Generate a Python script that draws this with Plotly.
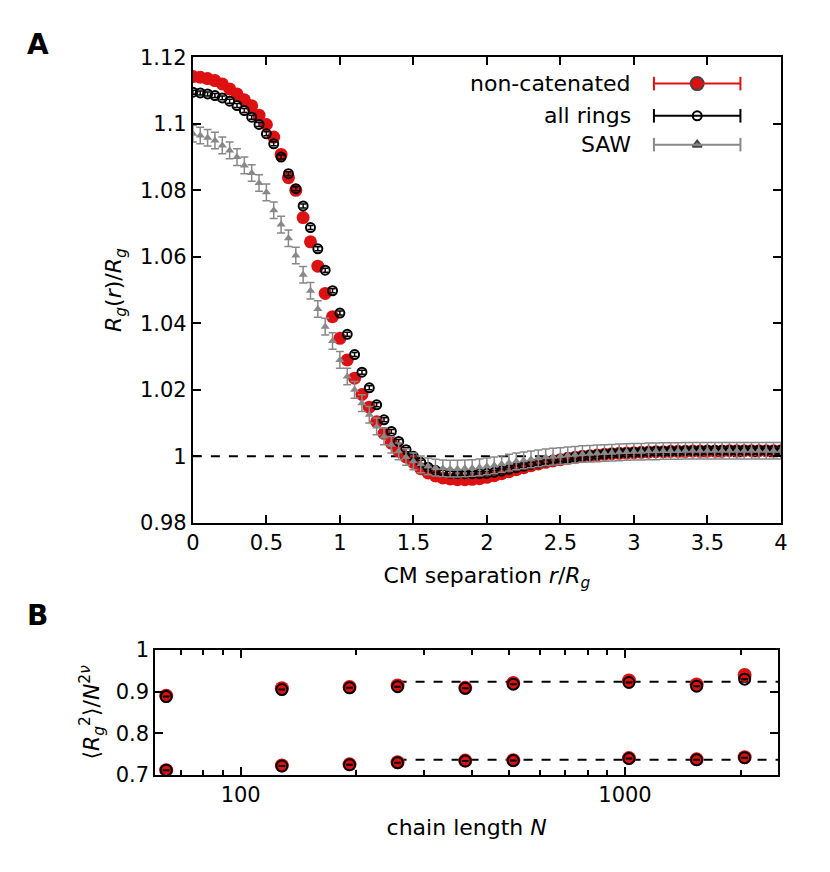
import plotly.graph_objects as go

# panel A: CM separation r/Rg, step 0.05
r = [round(i * 0.05, 2) for i in range(81)]

noncat = [1.1142, 1.1140, 1.1136, 1.1130, 1.1120, 1.1105, 1.1090, 1.1072, 1.1054, 1.1026,
          1.0998, 1.0960, 1.0908, 1.0838, 1.0800, 1.0718, 1.0645, 1.0572, 1.0490, 1.0420,
          1.0355, 1.0290, 1.0235, 1.0186, 1.0148, 1.0104, 1.0069, 1.0040, 1.0016, 0.9998,
          0.9982, 0.9963, 0.9950, 0.9941, 0.9935, 0.9932, 0.9930, 0.9930, 0.9931, 0.9933,
          0.9937, 0.9942, 0.9948, 0.9954, 0.9960, 0.9966, 0.9972, 0.9977, 0.9982, 0.9986,
          0.9990, 0.9994, 0.9997, 1.0000, 1.0002, 1.0004, 1.0006, 1.0008, 1.0009, 1.0010,
          1.0011, 1.0012, 1.0013, 1.0014, 1.0014, 1.0015, 1.0015, 1.0015, 1.0016, 1.0016,
          1.0016, 1.0016, 1.0016, 1.0017, 1.0017, 1.0017, 1.0017, 1.0017, 1.0017, 1.0017,
          1.0017]
noncat_err = [0.0003] * 81

allrings = [1.1095, 1.1093, 1.1090, 1.1085, 1.1078, 1.1068, 1.1055, 1.1040, 1.1020, 1.0998,
            1.0970, 1.0940, 1.0900, 1.0850, 1.0805, 1.0753, 1.0688, 1.0624, 1.0560, 1.0498,
            1.0431, 1.0367, 1.0306, 1.0253, 1.0206, 1.0155, 1.0110, 1.0075, 1.0045, 1.0020,
            1.0000, 0.9982, 0.9967, 0.9958, 0.9952, 0.9949, 0.9948, 0.9948, 0.9948, 0.9948,
            0.9949, 0.9952, 0.9956, 0.9961, 0.9966, 0.9971, 0.9976, 0.9980, 0.9984, 0.9988,
            0.9991, 0.9995, 0.9998, 1.0001, 1.0003, 1.0005, 1.0007, 1.0009, 1.0010, 1.0011,
            1.0012, 1.0013, 1.0014, 1.0015, 1.0015, 1.0016, 1.0016, 1.0017, 1.0017, 1.0017,
            1.0018, 1.0018, 1.0018, 1.0018, 1.0018, 1.0018, 1.0018, 1.0018, 1.0018, 1.0018,
            1.0018]
allrings_err = [0.0006] * 81

saw = [1.0970, 1.0965, 1.0958, 1.0950, 1.0935, 1.0920, 1.0900, 1.0875, 1.0852, 1.0822,
       1.0794, 1.0740, 1.0697, 1.0656, 1.0604, 1.0546, 1.0498, 1.0443, 1.0390, 1.0347,
       1.0290, 1.0240, 1.0200, 1.0160, 1.0125, 1.0090, 1.0060, 1.0035, 1.0015, 0.9998,
       0.9985, 0.9976, 0.9970, 0.9966, 0.9964, 0.9963, 0.9963, 0.9964, 0.9965, 0.9967,
       0.9970, 0.9973, 0.9977, 0.9981, 0.9985, 0.9988, 0.9991, 0.9994, 0.9997, 0.9999,
       1.0001, 1.0003, 1.0005, 1.0007, 1.0008, 1.0009, 1.0010, 1.0011, 1.0012, 1.0013,
       1.0014, 1.0014, 1.0015, 1.0015, 1.0016, 1.0016, 1.0016, 1.0017, 1.0017, 1.0017,
       1.0017, 1.0017, 1.0017, 1.0017, 1.0017, 1.0017, 1.0017, 1.0017, 1.0017, 1.0017,
       1.0017]
saw_err = [0.0025] * 81

# panel B: chain length N
N = [64, 128, 192, 256, 384, 512, 1024, 1536, 2048]
upper_red = [0.890, 0.908, 0.911, 0.915, 0.909, 0.921, 0.927, 0.917, 0.940]
upper_black = [0.888, 0.905, 0.909, 0.912, 0.908, 0.918, 0.922, 0.913, 0.930]
lower_red = [0.711, 0.722, 0.725, 0.730, 0.734, 0.735, 0.740, 0.737, 0.742]
lower_black = [0.711, 0.721, 0.724, 0.729, 0.733, 0.734, 0.739, 0.736, 0.741]
fit_N = [256, 2600]
fit_upper = [0.924, 0.924]
fit_lower = [0.736, 0.736]

RED = "#dd1111"
GRAY = "#888888"
FONT = "DejaVu Sans"

fig = go.Figure()

fig.add_trace(go.Scatter(x=[0, 4], y=[1, 1], mode="lines",
                         line=dict(color="black", width=2, dash="dash"), showlegend=False))
fig.add_trace(go.Scatter(x=r, y=noncat, mode="markers",
                         marker=dict(color=RED, size=13),
                         error_y=dict(array=noncat_err, color=RED, thickness=1.5, width=3),
                         showlegend=False))
fig.add_trace(go.Scatter(x=r, y=allrings, mode="markers",
                         marker=dict(symbol="circle-open", color="black", size=9, line=dict(width=2)),
                         error_y=dict(array=allrings_err, color="black", thickness=1.5, width=3),
                         showlegend=False))
fig.add_trace(go.Scatter(x=r, y=saw, mode="markers",
                         marker=dict(symbol="triangle-up", color=GRAY, size=8),
                         error_y=dict(array=saw_err, color=GRAY, thickness=1.5, width=4),
                         showlegend=False))

for fy in (fit_upper, fit_lower):
    fig.add_trace(go.Scatter(x=fit_N, y=fy, mode="lines", xaxis="x2", yaxis="y2",
                             line=dict(color="black", width=2, dash="dash"), showlegend=False))
for yr, yb in ((upper_red, upper_black), (lower_red, lower_black)):
    fig.add_trace(go.Scatter(x=N, y=yr, mode="markers", xaxis="x2", yaxis="y2",
                             marker=dict(color=RED, size=14), showlegend=False))
    fig.add_trace(go.Scatter(x=N, y=yb, mode="markers", xaxis="x2", yaxis="y2",
                             marker=dict(symbol="circle-open", color="black", size=11, line=dict(width=2)),
                             error_x=dict(array=[0.02 * n for n in N], color="black", thickness=2, width=0),
                             showlegend=False))

# hand-drawn legend (text left of sample, as in the original)
legend_rows = [("non-catenated", RED, "circle", 13, 0.925),
               ("all rings", "black", "circle-open", 9, 0.887),
               ("SAW", GRAY, "triangle-up", 8, 0.853)]
for name, col, sym, sz, ly in legend_rows:
    fig.add_annotation(text=name, xref="paper", yref="paper", x=0.757, y=ly,
                       xanchor="right", yanchor="middle", showarrow=False,
                       font=dict(size=22, color="black", family=FONT))
    fig.add_shape(type="line", xref="paper", yref="paper", x0=0.783, x1=0.889, y0=ly, y1=ly,
                  line=dict(color=col, width=2))
    for xe in (0.783, 0.889):
        fig.add_shape(type="line", xref="paper", yref="paper", x0=xe, x1=xe,
                      y0=ly - 0.008, y1=ly + 0.008, line=dict(color=col, width=2))
    fig.add_trace(go.Scatter(x=[0.836], y=[ly], xaxis="x3", yaxis="y3", mode="markers",
                             marker=dict(symbol=sym, color=col, size=sz, line=dict(width=2)),
                             showlegend=False))

fig.add_annotation(text="<b>A</b>", xref="paper", yref="paper", x=0.012, y=0.993,
                   xanchor="left", yanchor="top", showarrow=False, font=dict(size=28, family=FONT))
fig.add_annotation(text="<b>B</b>", xref="paper", yref="paper", x=0.012, y=0.32,
                   xanchor="left", yanchor="top", showarrow=False, font=dict(size=28, family=FONT))

axis_common = dict(showline=True, linecolor="black", linewidth=2, mirror="ticks",
                   ticks="inside", ticklen=8, tickcolor="black", tickwidth=1.5,
                   showgrid=False, zeroline=False,
                   tickfont=dict(size=21, color="black", family=FONT))

fig.update_layout(
    width=830, height=872, margin=dict(l=0, r=0, t=0, b=0),
    paper_bgcolor="white", plot_bgcolor="rgba(0,0,0,0)",
    font=dict(family=FONT, color="black"),
    xaxis=dict(domain=[0.218, 0.9386], anchor="y", range=[0, 4],
               tickvals=[0, 0.5, 1, 1.5, 2, 2.5, 3, 3.5, 4],
               ticktext=["0", "0.5", "1", "1.5", "2", "2.5", "3", "3.5", "4"],
               title=dict(text="CM separation <i>r</i>/<i>R<sub>g</sub></i>", font=dict(size=22), standoff=14),
               **axis_common),
    yaxis=dict(domain=[0.407, 0.956], anchor="x", range=[0.98, 1.12],
               tickvals=[0.98, 1.0, 1.02, 1.04, 1.06, 1.08, 1.1, 1.12],
               ticktext=["0.98", "1", "1.02", "1.04", "1.06", "1.08", "1.1", "1.12"],
               title=dict(text="<i>R<sub>g</sub></i>(<i>r</i>)/<i>R<sub>g</sub></i>", font=dict(size=22), standoff=12),
               **axis_common),
    xaxis2=dict(domain=[0.172, 0.935], anchor="y2", type="log",
                range=[1.778, 3.398], tickvals=[100, 1000], ticktext=["100", "1000"],
                minor=dict(ticks="inside", ticklen=5, tickcolor="black",
                           tickvals=[60, 70, 80, 90, 200, 300, 400, 500, 600, 700, 800, 900, 2000]),
                title=dict(text="chain length <i>N</i>", font=dict(size=22), standoff=14),
                **axis_common),
    yaxis2=dict(domain=[0.110, 0.257], anchor="x2", range=[0.7, 1.0],
                tickvals=[0.7, 0.8, 0.9, 1.0], ticktext=["0.7", "0.8", "0.9", "1"],
                title=dict(text="⟨<i>R<sub>g</sub></i><sup>2</sup>⟩/<i>N</i><sup>2<i>ν</i></sup>",
                           font=dict(size=22), standoff=10),
                **axis_common),
    xaxis3=dict(domain=[0, 1], anchor="y3", range=[0, 1], visible=False),
    yaxis3=dict(domain=[0, 1], anchor="x3", range=[0, 1], visible=False),
)

fig.write_html("out.html")
